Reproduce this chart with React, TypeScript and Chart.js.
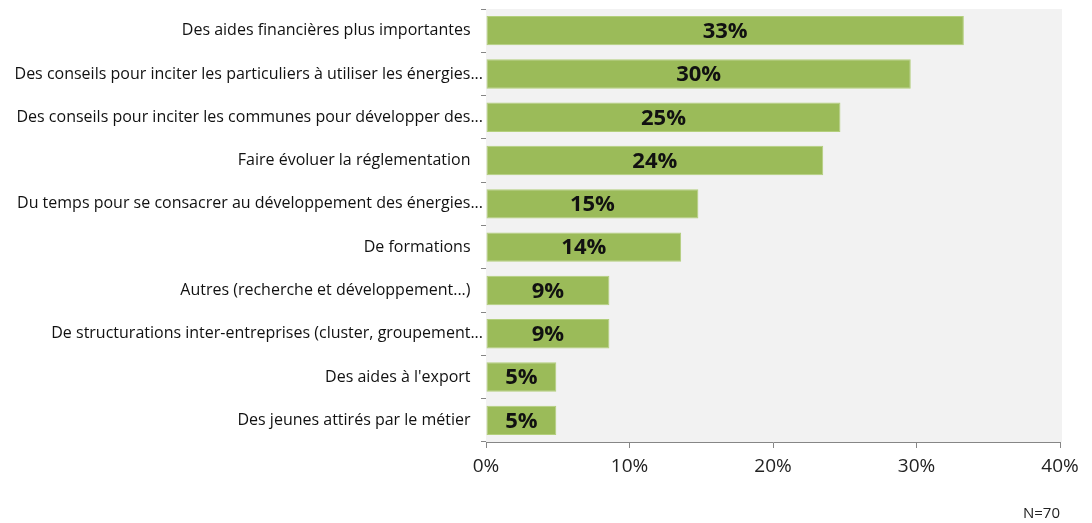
import React, { useEffect, useRef } from "react";
import { Chart, registerables } from "chart.js";

Chart.register(...registerables);

const categories = [
  "Des aides financières plus importantes   ",
  "Des conseils pour inciter les particuliers à utiliser les énergies...",
  "Des conseils pour inciter les communes pour développer des...",
  "Faire évoluer la réglementation   ",
  "Du temps pour se consacrer au développement des énergies...",
  "De formations   ",
  "Autres (recherche et développement...)   ",
  "De structurations inter-entreprises (cluster, groupement...",
  "Des aides à l'export   ",
  "Des jeunes attirés par le métier   ",
];
const values = [33.3, 29.6, 24.7, 23.5, 14.8, 13.6, 8.6, 8.6, 4.9, 4.9];
const valueLabels = ["33%", "30%", "25%", "24%", "15%", "14%", "9%", "9%", "5%", "5%"];
const xTicks = [0, 10, 20, 30, 40];
const sampleNote = "N=70";

const FONT = "'Open Sans', Lato, sans-serif";

export default function App() {
  const ref = useRef<HTMLCanvasElement | null>(null);

  useEffect(() => {
    if (!ref.current) return;
    const bgPlugin = {
      id: "bgPlugin",
      beforeDatasetsDraw(chart: any) {
        const { ctx, chartArea } = chart;
        ctx.save();
        ctx.fillStyle = "#f2f2f2";
        ctx.fillRect(chartArea.left, chartArea.top, chartArea.right - chartArea.left + 2, chartArea.bottom - chartArea.top);
        ctx.restore();
      },
    };
    const labelPlugin = {
      id: "labelPlugin",
      afterDatasetsDraw(chart: any) {
        const { ctx } = chart;
        const meta = chart.getDatasetMeta(0);
        ctx.save();
        ctx.font = `bold 22px ${FONT}`;
        ctx.fillStyle = "#111";
        ctx.textAlign = "center";
        ctx.textBaseline = "middle";
        meta.data.forEach((bar: any, i: number) => {
          const cx = (bar.x + bar.base) / 2;
          ctx.fillText(valueLabels[i], cx, bar.y + 1);
        });
        ctx.restore();
      },
    };
    const chart = new Chart(ref.current, {
      type: "bar",
      data: {
        labels: categories,
        datasets: [
          {
            data: values,
            backgroundColor: "#9bbb59",
            borderColor: "#b3cf7c",
            borderWidth: 1,
            borderSkipped: false,
            categoryPercentage: 1,
            barPercentage: 0.68,
          },
        ],
      },
      options: {
        indexAxis: "y",
        animation: false,
        responsive: false,
        maintainAspectRatio: false,
        layout: { padding: { top: 9, right: 32, left: 0, bottom: 0 } },
        plugins: { legend: { display: false }, tooltip: { enabled: false } },
        scales: {
          x: {
            min: 0,
            max: 40,
            afterBuildTicks(scale: any) {
              scale.ticks = xTicks.map((v) => ({ value: v }));
            },
            afterFit(scale: any) {
              scale.height = 81;
            },
            ticks: {
              callback: (v: any) => v + "%",
              color: "#222",
              font: { family: FONT, size: 19 },
              padding: 7,
              maxRotation: 0,
            },
            grid: { drawOnChartArea: false, drawTicks: true, tickLength: 6, color: "#868686" },
            border: { color: "#868686" },
            title: {
              display: true,
              text: sampleNote,
              align: "end",
              color: "#222",
              font: { family: FONT, size: 15 },
              padding: { top: 7, bottom: 0 },
            },
          },
          y: {
            afterFit(scale: any) {
              scale.width = 486;
            },
            ticks: {
              color: "#111",
              font: { family: FONT, size: 16 },
              padding: -2,
              autoSkip: false,
            },
            grid: { drawOnChartArea: false, drawTicks: true, tickLength: 5, color: "#868686", offset: true },
            border: { color: "#868686" },
          },
        },
      },
      plugins: [bgPlugin, labelPlugin],
    } as any);
    return () => chart.destroy();
  }, []);

  return (
    <div style={{ position: "absolute", left: 0, top: 0, width: 1092, height: 523, background: "#fff" }}>
      <canvas ref={ref} width={1092} height={523} style={{ width: 1092, height: 523 }} />
    </div>
  );
}
